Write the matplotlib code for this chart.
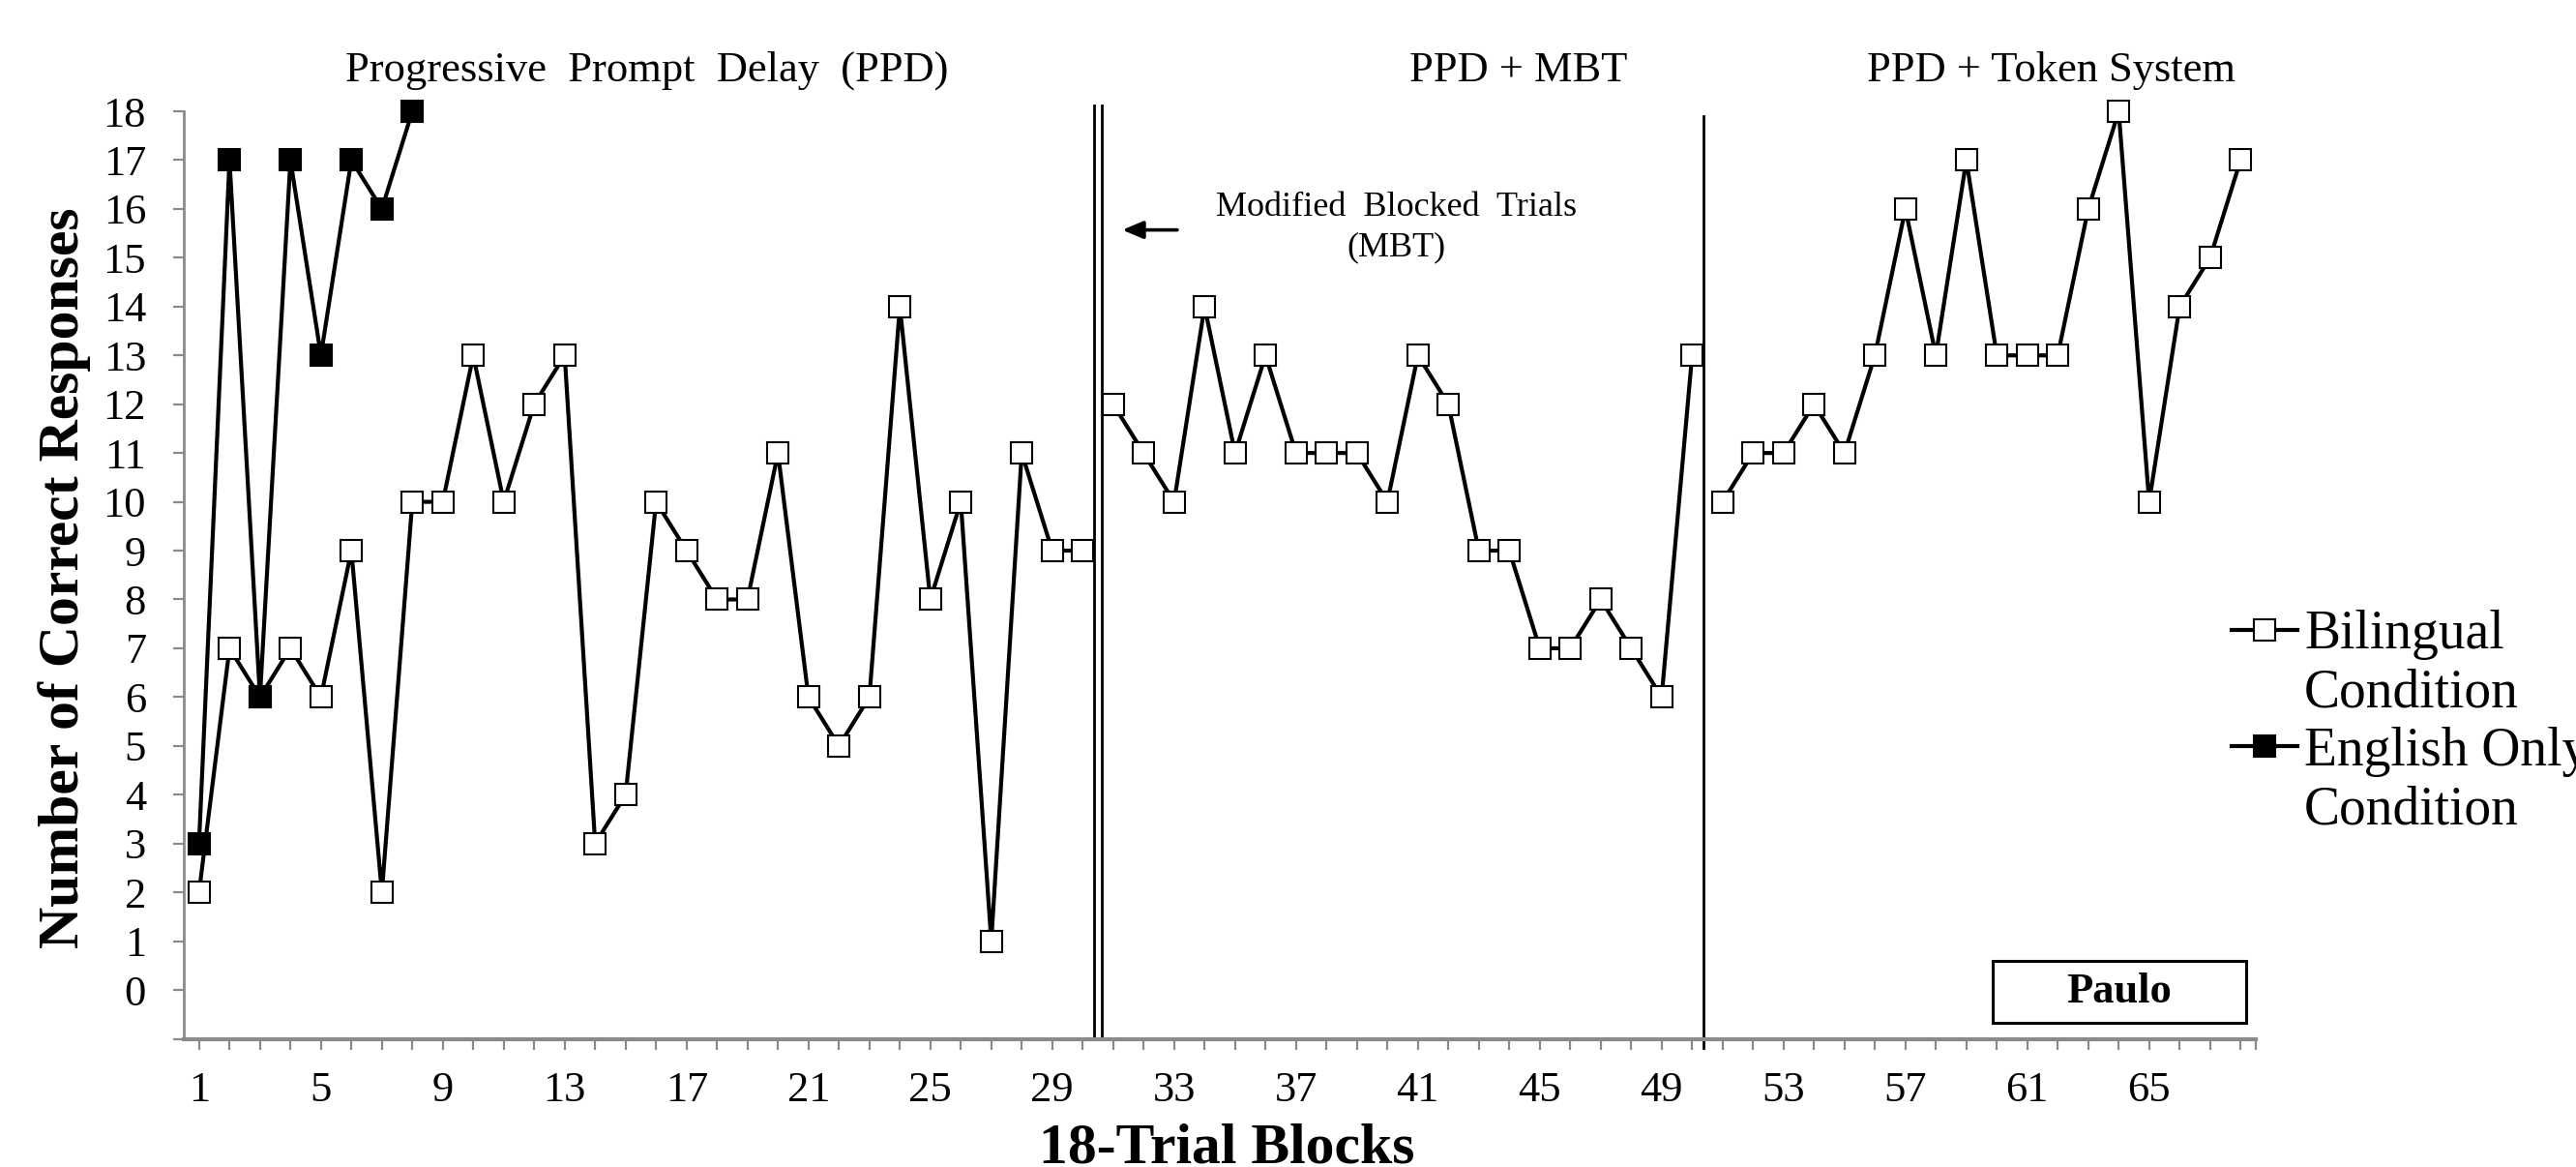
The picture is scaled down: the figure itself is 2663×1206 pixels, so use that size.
import matplotlib
matplotlib.use("Agg")
import matplotlib.pyplot as plt
from matplotlib.lines import Line2D
from matplotlib.patches import Rectangle

plt.rcParams['font.family'] = ['Liberation Serif', 'DejaVu Serif']

# ---------------- data ----------------
ppd_blocks = [1, 2, 3, 4, 5, 6, 7, 8, 9, 10, 11, 12, 13, 14, 15, 16, 17, 18, 19, 20,
              21, 22, 23, 24, 25, 26, 27, 28, 29, 30]
ppd_bilingual = [2, 7, 6, 7, 6, 9, 2, 10, 10, 13, 10, 12, 13, 3, 4, 10, 9, 8, 8, 11,
                 6, 5, 6, 14, 8, 10, 1, 11, 9, 9]

english_blocks = [1, 2, 3, 4, 5, 6, 7, 8]
english_only = [3, 17, 6, 17, 13, 17, 16, 18]

mbt_blocks = [31, 32, 33, 34, 35, 36, 37, 38, 39, 40, 41, 42, 43, 44, 45, 46, 47, 48, 49, 50]
mbt_bilingual = [12, 11, 10, 14, 11, 13, 11, 11, 11, 10, 13, 12, 9, 9, 7, 7, 8, 7, 6, 13]

token_blocks = [51, 52, 53, 54, 55, 56, 57, 58, 59, 60, 61, 62, 63, 64, 65, 66, 67, 68]
token_bilingual = [10, 11, 11, 12, 11, 13, 16, 13, 17, 13, 13, 13, 16, 18, 10, 14, 15, 17]

phase_labels = ["Progressive  Prompt  Delay  (PPD)", "PPD + MBT", "PPD + Token System"]
phase_label_x = [15.7, 44.3, 61.8]
phase_lines_double = [30.36, 30.63]
phase_line_single = 50.36

xtick_labels = [1, 5, 9, 13, 17, 21, 25, 29, 33, 37, 41, 45, 49, 53, 57, 61, 65]
ytick_labels = list(range(0, 19))

# ---------------- figure ----------------
W, H = 2663, 1206
fig = plt.figure(figsize=(W / 100, H / 100), dpi=100)
ax = fig.add_axes([190 / W, 1 - 1073.5 / H, (2332 - 190) / W, (1073.5 - 99.9) / H])

gray = '#8a8a8a'
lw = 3.0
ms = 16

bil_style = dict(color='black', lw=lw, marker='s', ms=ms, mfc='white', mec='black', mew=1.5,
                 zorder=3, clip_on=False)
eng_style = dict(color='black', lw=lw, marker='s', ms=ms, mfc='black', mec='black', mew=1.5,
                 zorder=4, clip_on=False)

h_bil, = ax.plot(ppd_blocks, ppd_bilingual, **bil_style)
ax.plot(mbt_blocks, mbt_bilingual, **bil_style)
ax.plot(token_blocks, token_bilingual, **bil_style)
h_eng, = ax.plot(english_blocks, english_only, **eng_style)

ax.set_xlim(0.5, 68.5)
ax.set_ylim(-1, 18.3)

# spines
for s in ['top', 'right']:
    ax.spines[s].set_visible(False)
ax.spines['left'].set_color(gray)
ax.spines['bottom'].set_color(gray)
ax.spines['left'].set_linewidth(2.0)
ax.spines['bottom'].set_linewidth(3.0)
ax.spines['left'].set_bounds(-1, 18)

# ticks
xt = list(range(1, 69)) + [68.5]
ax.set_xticks(xt)
ax.set_xticklabels([str(v) if v in xtick_labels else '' for v in xt])
ax.set_yticks([-1] + ytick_labels)
ax.set_yticklabels([''] + [str(v) for v in ytick_labels])
ax.tick_params(axis='x', direction='out', length=8, width=1.6, color=gray, pad=16,
               labelsize=32)
ax.tick_params(axis='y', direction='out', length=8, width=1.6, color=gray, pad=20,
               labelsize=32)

# phase change lines
for xv in phase_lines_double:
    ax.plot([xv, xv], [-1, 18.12], color='black', lw=2.0, zorder=2, clip_on=False)
ax.plot([phase_line_single] * 2, [-1.18, 17.9], color='black', lw=2.0, zorder=2,
        clip_on=False)

# phase labels
for lab, xv in zip(phase_labels, phase_label_x):
    ax.text(xv, 18.84, lab, ha='center', va='center', fontsize=32, clip_on=False)

# MBT annotation
ax.text(40.3, 15.62, "Modified  Blocked  Trials\n(MBT)", ha='center', va='center',
        fontsize=26, linespacing=1.35)
ax.annotate('', xy=(31.3, 15.57), xytext=(33.1, 15.57),
            arrowprops=dict(arrowstyle='-|>,head_length=1.3,head_width=0.55',
                            color='black', lw=2.6, shrinkA=0, shrinkB=0))

# axis labels
fig.text(67 / W, 1 - 597 / H, "Number of Correct Responses", rotation=90, ha='center',
         va='center', fontsize=43, fontweight='bold')
fig.text(1268 / W, 1 - 1201 / H, "18-Trial Blocks", ha='center', va='baseline',
         fontsize=43, fontweight='bold')

# legend
empty = Line2D([], [], linestyle='none')
leg = fig.legend([h_bil, empty, h_eng, empty],
                 ['Bilingual', 'Condition', 'English Only', 'Condition'],
                 loc='upper left', bbox_to_anchor=(2307 / W, 1 - 630 / H),
                 frameon=False, fontsize=40, handlelength=1.22, handletextpad=0.13,
                 labelspacing=0.15, borderpad=0, borderaxespad=0, markerscale=1.0)

# Paulo box
fig.patches.append(Rectangle((2060 / W, 1 - 1057 / H), 262 / W, 64 / H,
                             transform=fig.transFigure, fill=False, ec='black', lw=2.2))
fig.text(2191 / W, 1 - 1025 / H, "Paulo", ha='center', va='center', fontsize=32,
         fontweight='bold')

fig.savefig('out.png', dpi=100)
